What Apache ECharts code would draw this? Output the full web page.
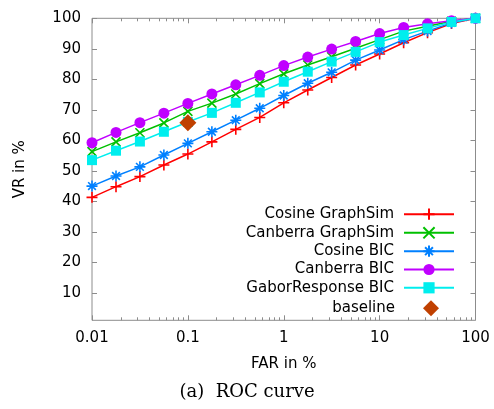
<!DOCTYPE html>
<html>
<head>
<meta charset="utf-8">
<script src="https://cdn.jsdelivr.net/npm/echarts@6/dist/echarts.min.js"></script>
<style>
  html, body { margin: 0; padding: 0; background: #fff; }
  #chart { width: 494px; height: 409px; }
</style>
</head>
<body>
<div id="chart"></div>
<script>
// FAR in %, quarter-decade steps
var farValues = [0.01, 0.0178, 0.0316, 0.0562, 0.1, 0.178, 0.316, 0.562, 1, 1.78, 3.16, 5.62, 10, 17.8, 31.6, 56.2, 100];

// VR in % for each method
var cosineGraphSim   = [41.3, 44.8, 48.1, 51.9, 55.5, 59.5, 63.6, 67.5, 72.3, 76.5, 80.6, 84.7, 88.3, 92.0, 95.3, 98.3, 100];
var canberraGraphSim = [56.3, 59.5, 62.5, 65.7, 69.5, 72.2, 75.2, 78.6, 81.8, 84.7, 87.4, 90.2, 93.0, 95.8, 97.4, 99.0, 100];
var cosineBIC        = [45.0, 48.3, 51.3, 55.2, 59.0, 62.8, 66.6, 70.5, 74.7, 78.7, 82.3, 86.3, 89.6, 93.0, 95.8, 98.5, 100];
var canberraBIC      = [59.2, 62.6, 65.8, 68.9, 72.1, 75.2, 78.2, 81.3, 84.5, 87.3, 89.9, 92.4, 95.0, 97.0, 98.2, 99.2, 100];
var gaborBIC         = [53.5, 56.6, 59.6, 62.8, 66.0, 69.0, 72.3, 75.7, 79.2, 82.5, 85.8, 89.0, 92.2, 94.5, 96.7, 98.8, 100];
var baselinePoint    = [0.1, 65.8];

var seriesNames = ['Cosine GraphSim', 'Canberra GraphSim', 'Cosine BIC', 'Canberra BIC', 'GaborResponse BIC', 'baseline'];
var yTicks = [10, 20, 30, 40, 50, 60, 70, 80, 90, 100];
var xDecades = [-2, -1, 0, 1]; // log10 of decade starts, for minor ticks

var FONT = 'DejaVu Sans';
var BORDER = '#8c8c8c';

// minor tick positions (log10 space) 2..9 in each decade
var minorTicks = [];
xDecades.forEach(function (d) {
  for (var m = 2; m <= 9; m++) minorTicks.push(d + Math.log10(m));
});

function pairs(ys) {
  return ys.map(function (y, i) { return [farValues[i], y]; });
}

var symPlus = 'path://M0,5L10,5M5,0L5,10';
var symCross = 'path://M0,0L10,10M10,0L0,10';
var symStar = 'path://M0,5L10,5M5,0L5,10M1.5,1.5L8.5,8.5M8.5,1.5L1.5,8.5';

function lineSeries(name, ys, color, symbol, size, stroke) {
  return {
    name: name,
    type: 'line',
    data: pairs(ys),
    xAxisIndex: 0,
    yAxisIndex: 0,
    symbol: symbol,
    symbolSize: size,
    symbolKeepAspect: true,
    showAllSymbol: true,
    lineStyle: { color: color, width: 1.5 },
    itemStyle: stroke
      ? { color: color, borderColor: color, borderWidth: 1.6 }
      : { color: color, borderWidth: 0 },
    emphasis: { disabled: true }
  };
}

var legendCenters = [215.7, 234.3, 252.7, 271, 289.3, 308.3];
var legends = seriesNames.map(function (n, i) {
  var isBase = i === 5;
  return {
    data: isBase ? [{ name: n, icon: 'diamond' }] : [n],
    orient: 'vertical',
    right: isBase ? 55 : 39,
    top: legendCenters[i] - (isBase ? 8 : 9),
    align: 'right',
    padding: 0,
    itemWidth: isBase ? 16 : 50,
    itemHeight: isBase ? 16 : 14,
    selectedMode: false,
    textStyle: { fontFamily: FONT, fontSize: 15, color: '#000', padding: [0, isBase ? 23 : 5, 0, 0] }
  };
});

var chart = echarts.init(document.getElementById('chart'), null, { renderer: 'canvas' });

var tickBase = { show: true, inside: true, lineStyle: { color: BORDER, width: 1 } };
var noLine = { show: false, onZero: false };

chart.setOption({
  animation: false,
  backgroundColor: '#fff',
  grid: { left: 92, right: 18.5, top: 18.3, bottom: 88.7, show: true, borderColor: BORDER, borderWidth: 1, backgroundColor: 'transparent' },
  title: {
    text: '(a)  ROC curve',
    left: 'center',
    top: 383,
    padding: 0,
    textStyle: { fontFamily: 'DejaVu Serif', fontSize: 18, fontWeight: 'normal', color: '#000' }
  },
  legend: legends,
  xAxis: [
    {
      type: 'log', logBase: 10, min: 0.01, max: 100, position: 'bottom',
      name: 'FAR in %', nameLocation: 'middle', nameGap: 36,
      nameTextStyle: { fontFamily: FONT, fontSize: 15, color: '#000' },
      axisLine: noLine,
      axisTick: Object.assign({ length: 5 }, tickBase),
      axisLabel: { fontFamily: FONT, fontSize: 15, color: '#000', margin: 10 },
      splitLine: { show: false }
    },
    {
      type: 'log', logBase: 10, min: 0.01, max: 100, position: 'top',
      axisLine: noLine,
      axisTick: Object.assign({ length: 5 }, tickBase),
      axisLabel: { show: false },
      splitLine: { show: false }
    },
    {
      type: 'value', min: -2, max: 2, position: 'bottom',
      axisLine: noLine,
      axisTick: Object.assign({ length: 3, customValues: minorTicks }, tickBase),
      axisLabel: { show: false },
      splitLine: { show: false }
    },
    {
      type: 'value', min: -2, max: 2, position: 'top',
      axisLine: noLine,
      axisTick: Object.assign({ length: 3, customValues: minorTicks }, tickBase),
      axisLabel: { show: false },
      splitLine: { show: false }
    }
  ],
  yAxis: [
    {
      type: 'value', min: 1, max: 100, position: 'left',
      name: 'VR in %', nameLocation: 'middle', nameGap: 64, nameRotate: 90,
      nameTextStyle: { fontFamily: FONT, fontSize: 15, color: '#000' },
      axisLine: noLine,
      axisTick: Object.assign({ length: 5, customValues: yTicks }, tickBase),
      axisLabel: { fontFamily: FONT, fontSize: 15, color: '#000', margin: 11, customValues: yTicks },
      splitLine: { show: false }
    },
    {
      type: 'value', min: 1, max: 100, position: 'right',
      axisLine: noLine,
      axisTick: Object.assign({ length: 5, customValues: yTicks }, tickBase),
      axisLabel: { show: false },
      splitLine: { show: false }
    }
  ],
  series: [
    lineSeries(seriesNames[0], cosineGraphSim, '#ff0000', symPlus, 11, true),
    lineSeries(seriesNames[1], canberraGraphSim, '#00c000', symCross, 9, true),
    lineSeries(seriesNames[2], cosineBIC, '#0080ff', symStar, 11, true),
    lineSeries(seriesNames[3], canberraBIC, '#c000ff', 'circle', 11, false),
    lineSeries(seriesNames[4], gaborBIC, '#00eeee', 'rect', 10, false),
    {
      name: seriesNames[5],
      type: 'scatter',
      data: [baselinePoint],
      xAxisIndex: 0,
      yAxisIndex: 0,
      z: 5,
      symbol: 'diamond',
      symbolSize: 17,
      itemStyle: { color: '#c04000', opacity: 1 },
      emphasis: { disabled: true }
    }
  ]
});
</script>
</body>
</html>
